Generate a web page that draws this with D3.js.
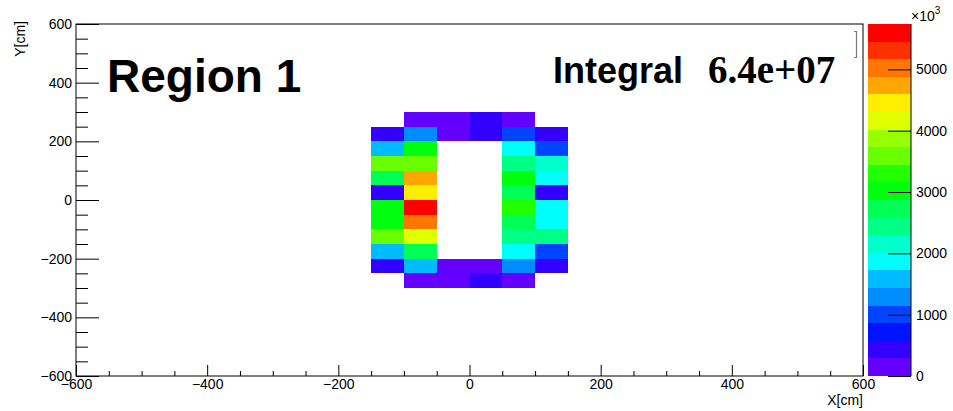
<!DOCTYPE html>
<html>
<head>
<meta charset="utf-8">
<script src="https://cdn.jsdelivr.net/npm/d3@7"></script>
<style>
  body { margin: 0; background: #fff; }
  svg { display: block; }
  .axis text { font-family: "Liberation Sans", Arial, sans-serif; font-size: 14px; fill: #000; }
  .axis line, .axis path { stroke: #000; stroke-width: 1; }
</style>
</head>
<body>
<div id="chart"></div>
<script>
// bin edges (cm)
const xEdges = [-150, -100, -50, 0, 50, 100, 150];
const yEdges = [300, 250, 200, 150, 100, 50, 0, -50, -100, -150, -200, -250, -300];
// bin contents in units of 10^3, rows from top (y=300) to bottom, 0 = empty
const binValues = [
    [0,    150,  160,  430,  140,  0],
    [420,  1300, 170,  440,  1010, 410],
    [1590, 3000, 0,    0,    1860, 990],
    [3600, 3580, 0,    0,    2450, 2160],
    [2730, 4740, 0,    0,    3020, 1880],
    [400,  4460, 0,    0,    2700, 420],
    [3010, 5740, 0,    0,    3300, 1850],
    [2990, 5030, 0,    0,    2740, 1900],
    [3590, 4170, 0,    0,    2430, 2420],
    [1580, 2710, 0,    0,    1880, 1000],
    [440,  1600, 180,  150,  1310, 430],
    [0,    140,  150,  420,  160,  0]
];
const xTicks = [-600, -400, -200, 0, 200, 400, 600];
const yTicks = [-600, -400, -200, 0, 200, 400, 600];
const zTicks = [0, 1000, 2000, 3000, 4000, 5000];
const regionLabel = "Region 1";
const integralLabel = "Integral";
const integralValue = "6.4e+07";
const nContours = 20;

let width = 953, height = 411;
let margin = {left: 76, right: 863, top: 24, bottom: 376};

let svg = d3.select('#chart').append('svg')
    .attr('width', width)
    .attr('height', height);

let x = d3.scaleLinear().domain([-600, 600]).range([margin.left, margin.right]);
let y = d3.scaleLinear().domain([-600, 600]).range([margin.bottom, margin.top]);

// palette like ROOT SetPalette(1): 50 hues 280 -> 0
let pretty = d3.range(50).map(i => d3.hsl(280 - (i + 1) * 5.6, 1, 0.5).formatHex());
let levels = d3.range(nContours).map(k => pretty[Math.floor((k + 0.99) * 50 / nContours)]);

let zMax = d3.max(binValues.flat());
let level = v => Math.min(nContours - 1, Math.floor(v / zMax * nContours));

// bins
let cells = [];
binValues.forEach((row, r) => row.forEach((v, c) => {
    if (v > 0) cells.push({x0: xEdges[c], x1: xEdges[c + 1], y0: yEdges[r + 1], y1: yEdges[r], v: v});
}));

svg.append('g').selectAll('rect')
    .data(cells)
    .enter().append('rect')
    .attr('x', d => x(d.x0))
    .attr('y', d => y(d.y1))
    .attr('width', d => x(d.x1) - x(d.x0))
    .attr('height', d => y(d.y0) - y(d.y1))
    .attr('fill', d => levels[level(d.v)])
    .attr('shape-rendering', 'crispEdges');

// frame
svg.append('rect')
    .attr('x', margin.left).attr('y', margin.top)
    .attr('width', margin.right - margin.left)
    .attr('height', margin.bottom - margin.top)
    .attr('fill', 'none').attr('stroke', '#000');

// x axis
let minorX = d3.range(-600, 601, 50).filter(v => v % 200 !== 0);
svg.append('g').attr('class', 'axis')
    .attr('transform', `translate(0,${margin.bottom})`)
    .call(d3.axisBottom(x).tickValues(minorX).tickSize(-5).tickFormat(''))
    .call(g => g.select('.domain').remove());
svg.append('g').attr('class', 'axis')
    .attr('transform', `translate(0,${margin.bottom})`)
    .call(d3.axisBottom(x).tickValues(xTicks).tickSize(-11).tickPadding(3))
    .call(g => g.select('.domain').remove());

// y axis
let minorY = d3.range(-600, 601, 50).filter(v => v % 200 !== 0);
svg.append('g').attr('class', 'axis')
    .attr('transform', `translate(${margin.left},0)`)
    .call(d3.axisLeft(y).tickValues(minorY).tickSize(-12).tickFormat(''))
    .call(g => g.select('.domain').remove());
svg.append('g').attr('class', 'axis')
    .attr('transform', `translate(${margin.left},0)`)
    .call(d3.axisLeft(y).tickValues(yTicks).tickSize(-23).tickPadding(4))
    .call(g => g.select('.domain').remove());

// axis titles
svg.append('text')
    .attr('x', margin.right).attr('y', 405)
    .attr('text-anchor', 'end')
    .style('font-family', '"Liberation Sans", Arial, sans-serif').style('font-size', '14px')
    .text('X[cm]');
svg.append('text')
    .attr('transform', `translate(25,${margin.top - 3}) rotate(-90)`)
    .attr('text-anchor', 'end')
    .style('font-family', '"Liberation Sans", Arial, sans-serif').style('font-size', '14px')
    .text('Y[cm]');

// palette
let pal = {x0: 868, x1: 911};
let z = d3.scaleLinear().domain([0, zMax]).range([margin.bottom, margin.top]);
svg.append('g').selectAll('rect')
    .data(levels)
    .enter().append('rect')
    .attr('x', pal.x0)
    .attr('y', (d, k) => z((k + 1) * zMax / nContours))
    .attr('width', pal.x1 - pal.x0)
    .attr('height', (d, k) => z(k * zMax / nContours) - z((k + 1) * zMax / nContours))
    .attr('fill', d => d)
    .attr('shape-rendering', 'crispEdges');

svg.append('g').attr('class', 'axis')
    .attr('transform', `translate(${pal.x1},0)`)
    .call(d3.axisRight(z).tickValues(zTicks).tickSize(-23).tickPadding(5).tickFormat(d3.format('d')))
    .call(g => g.select('.domain').attr('d', `M0,${margin.top}V${margin.bottom}`));

let exp = svg.append('text')
    .attr('x', 911).attr('y', 21)
    .style('font-family', '"Liberation Sans", Arial, sans-serif').style('font-size', '14px');
exp.append('tspan').text('\u00d710');
exp.append('tspan').attr('dy', -7).style('font-size', '10px').text('3');

// leftover stats box edge
svg.append('path')
    .attr('d', 'M854,31.5H856.5V57.5H854')
    .attr('fill', 'none').attr('stroke', '#777').attr('stroke-width', 1.2);

// labels
svg.append('text')
    .attr('x', 107).attr('y', 92)
    .style('font-family', '"Liberation Sans", Arial, sans-serif')
    .style('font-weight', 'bold').style('font-size', '46px')
    .text(regionLabel);
svg.append('text')
    .attr('x', 553).attr('y', 83)
    .style('font-family', '"Liberation Sans", Arial, sans-serif')
    .style('font-weight', 'bold').style('font-size', '36px')
    .text(integralLabel);
svg.append('text')
    .attr('x', 708).attr('y', 83)
    .style('font-family', '"Liberation Serif", "Times New Roman", serif')
    .style('font-weight', 'bold').style('font-size', '39px')
    .text(integralValue);
</script>
</body>
</html>
